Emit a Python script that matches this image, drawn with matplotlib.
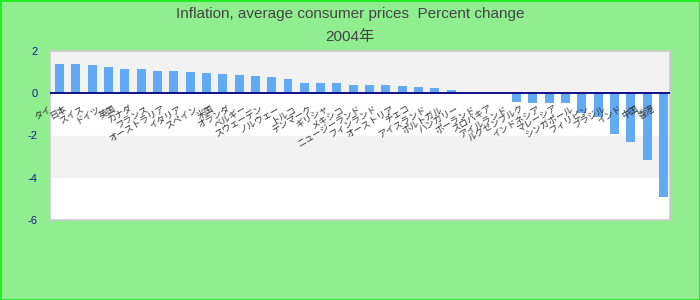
import matplotlib.pyplot as plt
import numpy as np

# chart data
countries = ['タイ', '日本', 'スイス', 'ドイツ', '英国', 'カナダ', 'フランス', 'オーストラリア',
             'イタリア', 'スペイン', '米国', 'オランダ', 'ベルギー', 'スウェーデン', 'ノルウェー', 'トルコ',
             'デンマーク', 'ギリシャ', 'メキシコ', 'ニュージーランド', 'フィンランド', 'オーストリア', 'チェコ',
             'アイスランド', 'ポルトガル', 'ハンガリー', 'ポーランド', 'スロバキア', 'アイルランド', 'ルクセンブルク',
             'インドネシア', 'マレーシア', 'シンガポール', 'フィリピン', 'ブラジル', 'インド', '中国', '香港']
values = [1.40, 1.40, 1.35, 1.25, 1.16, 1.16, 1.06, 1.06, 1.01, 0.96,
          0.92, 0.87, 0.82, 0.78, 0.68, 0.49, 0.49, 0.49, 0.40, 0.40,
          0.40, 0.35, 0.30, 0.25, 0.16, 0.0, 0.0, 0.0, -0.40, -0.46,
          -0.46, -0.46, -0.94, -1.13, -1.94, -2.32, -3.17, -4.89]
yticks = [2, 0, -2, -4, -6]
title1 = 'Inflation, average consumer prices  Percent change'
title2 = '2004年'

fig = plt.figure(figsize=(7, 3), dpi=100, facecolor='#90ee90',
                 edgecolor='#22ee22', linewidth=2)
ax = fig.add_axes([50 / 700, 80 / 300, 620 / 700, 169 / 300])
ax.set_facecolor('white')

# alternating bands
for lo, hi, c in [(0, 2, '#f2f2f2'), (-2, 0, 'white'), (-4, -2, '#f2f2f2'), (-6, -4, 'white')]:
    ax.axhspan(lo, hi, color=c, zorder=0)

x = np.arange(len(values))
ax.bar(x, values, width=0.55, color='#62aaf4', zorder=2)
ax.axhline(0, color='#000080', lw=1.3, zorder=3)

ax.set_xlim(-0.58, len(values) - 0.6)
ax.set_ylim(-6, 2)
ax.set_xticks([])
ax.set_yticks(yticks)
ax.set_yticklabels([str(t) for t in yticks], color='#1a1a8c', fontsize=8,
                   family='Liberation Sans')
ax.tick_params(axis='y', length=0, pad=9)
for s in ax.spines.values():
    s.set_color('#cccccc')
    s.set_linewidth(1.2)

# category labels hang under the zero line
for i, name in enumerate(countries):
    ax.annotate(name, (i, 0), xytext=(-5, -8), textcoords='offset points',
                rotation=30, ha='right', va='top', fontsize=6.5,
                family=['Noto Sans CJK JP', 'DejaVu Sans'], color='#333333', zorder=4)

fig.text(0.5, 1 - 14 / 300, title1, ha='center', va='center', fontsize=11,
         color='#444444', family=['Liberation Sans', 'Noto Sans CJK JP'])
fig.text(0.5, 1 - 37 / 300, title2, ha='center', va='center', fontsize=11,
         color='#444444', family=['Liberation Sans', 'Noto Sans CJK JP'])

fig.savefig('out.png', dpi=100, facecolor=fig.get_facecolor(), edgecolor=fig.get_edgecolor())
